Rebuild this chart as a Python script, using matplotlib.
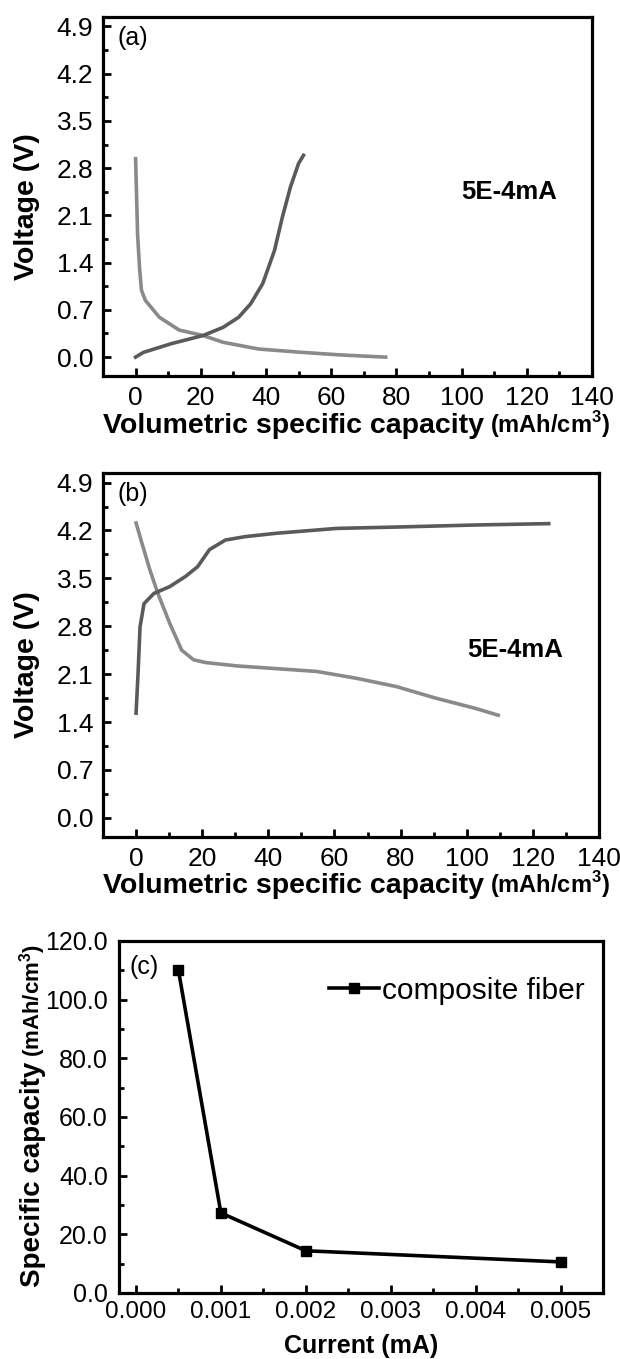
"""
Volumetric capacity curves of the composite fiber, three stacked panels.
"""
import numpy as np
import matplotlib.pyplot as plt
from matplotlib.ticker import MultipleLocator, FormatStrFormatter

plt.rcParams['font.family'] = ['Liberation Sans', 'DejaVu Sans']
plt.rcParams['mathtext.fontset'] = 'custom'
plt.rcParams['mathtext.rm'] = 'Liberation Sans'
plt.rcParams['mathtext.bf'] = 'Liberation Sans:bold'

# (a) charge / discharge at 5E-4 mA
a_dis_x = [0, 0.6, 1.2, 1.8, 3.0, 7.3, 13.4, 20.7, 26.8, 37.7, 50, 62, 70, 76.7]
a_dis_y = [2.94, 1.83, 1.33, 0.99, 0.84, 0.59, 0.40, 0.32, 0.22, 0.12, 0.074, 0.035, 0.015, 0.0]
a_chg_x = [0, 2.4, 11, 20.7, 26.8, 31.6, 35.3, 39, 42.6, 45, 47.5, 50, 51.5]
a_chg_y = [0, 0.07, 0.2, 0.32, 0.44, 0.59, 0.79, 1.09, 1.58, 2.07, 2.52, 2.87, 2.99]

# (b) charge / discharge at 5E-4 mA
b_chg_x = [0, 0.6, 1.2, 2.4, 5.4, 10.2, 15, 18.6, 22.2, 27, 33, 42.6, 60.6, 78.6, 102.6, 124.8]
b_chg_y = [1.53, 2.11, 2.79, 3.13, 3.28, 3.38, 3.53, 3.67, 3.92, 4.06, 4.11, 4.16, 4.23, 4.25, 4.28, 4.30]
b_dis_x = [0, 1.8, 4.2, 6.6, 10.2, 13.8, 17.4, 21, 30.6, 42.6, 54.6, 66.6, 78.6, 90.6, 102.6, 109.5]
b_dis_y = [4.31, 4.01, 3.62, 3.28, 2.84, 2.45, 2.31, 2.27, 2.22, 2.18, 2.14, 2.04, 1.92, 1.75, 1.60, 1.50]

# (c) rate capability
current = [0.0005, 0.001, 0.002, 0.005]
capacity = [110.0, 27.3, 14.4, 10.6]

W, H = 620, 1359
fig = plt.figure(figsize=(W / 100, H / 100), dpi=100)


def box(l, t, r, b):
    return [l / W, 1 - b / H, (r - l) / W, (b - t) / H]


def px(x, y):
    return x / W, 1 - y / H


def style(ax, size=19):
    for s in ax.spines.values():
        s.set_linewidth(2.3)
    ax.tick_params(which='both', direction='in', top=False, right=False, width=2.0,
                   labelsize=size, pad=7)
    ax.tick_params(which='major', length=6)
    ax.tick_params(which='minor', length=3.5)


def volt_panel(ax, tag):
    ax.set_xlim(-10, 140)
    ax.set_ylim(-0.28, 5.04)
    ax.xaxis.set_major_locator(MultipleLocator(20))
    ax.xaxis.set_minor_locator(MultipleLocator(10))
    ax.yaxis.set_major_locator(MultipleLocator(0.7))
    ax.yaxis.set_minor_locator(MultipleLocator(0.35))
    ax.yaxis.set_major_formatter(FormatStrFormatter('%.1f'))
    style(ax)
    ax.text(0.03, 0.975, tag, transform=ax.transAxes, fontsize=18, ha='left', va='top')
    ax.text(100, 2.45, '5E-4mA', fontsize=18.5, fontweight='bold', ha='left', va='center')


ax1 = fig.add_axes(box(103, 17, 592, 376))
ax1.plot(a_dis_x, a_dis_y, color='#8a8a8a', lw=2.6)
ax1.plot(a_chg_x, a_chg_y, color='#5a5a5a', lw=2.6)
volt_panel(ax1, '(a)')

ax2 = fig.add_axes(box(103, 473, 599, 837))
ax2.plot(b_dis_x, b_dis_y, color='#8a8a8a', lw=2.6)
ax2.plot(b_chg_x, b_chg_y, color='#5a5a5a', lw=2.6)
volt_panel(ax2, '(b)')

ax3 = fig.add_axes(box(119, 941, 603, 1293))
ax3.plot(current, capacity, color='black', lw=2.6, marker='s', ms=7, label='composite fiber')
ax3.set_xlim(-0.0002, 0.0055)
ax3.set_ylim(0, 120)
ax3.xaxis.set_major_locator(MultipleLocator(0.001))
ax3.xaxis.set_minor_locator(MultipleLocator(0.0005))
ax3.xaxis.set_major_formatter(FormatStrFormatter('%.3f'))
ax3.yaxis.set_major_locator(MultipleLocator(20))
ax3.yaxis.set_minor_locator(MultipleLocator(10))
ax3.yaxis.set_major_formatter(FormatStrFormatter('%.1f'))
style(ax3, size=18)
ax3.tick_params(axis='y', pad=8)
ax3.tick_params(axis='x', labelsize=17.5, pad=5.5)
ax3.text(0.022, 0.96, '(c)', transform=ax3.transAxes, fontsize=18, ha='left', va='top')
ax3.legend(loc='upper right', frameon=False, fontsize=21.5, handlelength=1.7,
           handletextpad=0.1, borderaxespad=0.2, bbox_to_anchor=(1.0, 0.95))

# axis labels placed in pixels to follow the original figure
for yc in (207, 665):
    fig.text(*px(27, yc), 'Voltage (V)', rotation=90, ha='center', va='center',
             fontsize=20.5, fontweight='bold')

for yb in (433, 893):
    fig.text(*px(484, yb), 'Volumetric specific capacity', ha='right', va='baseline',
             fontsize=20.5, fontweight='bold')
    fig.text(*px(490, yb), r'(mAh/cm$^{\mathbf{3}}$)', ha='left', va='baseline',
             fontsize=17, fontweight='bold')

fig.text(*px(40, 1062), 'Specific capacity', rotation=90, rotation_mode='anchor',
         ha='right', va='baseline', fontsize=20, fontweight='bold')
fig.text(*px(40, 1057), r'(mAh/cm$^{\mathbf{3}}$)', rotation=90, rotation_mode='anchor',
         ha='left', va='baseline', fontsize=16, fontweight='bold')
fig.text(*px(361, 1353), 'Current (mA)', ha='center', va='baseline', fontsize=18,
         fontweight='bold')

fig.savefig('out.png', dpi=100)
